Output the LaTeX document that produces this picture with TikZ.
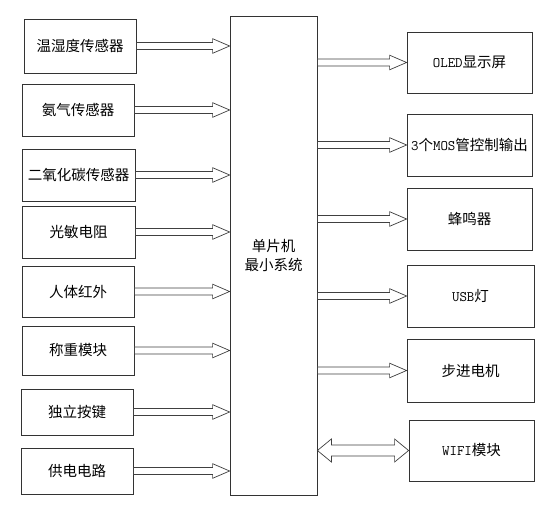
\documentclass[tikz,border=0pt]{standalone}
\usepackage{fontspec}
\setmainfont{Noto Sans CJK SC}
\newfontfamily\latinmono{Latin Modern Mono}
\usetikzlibrary{calc}

\newcommand{\en}[1]{{\latinmono #1}}

\tikzset{
  blk/.style={draw=black!80,line width=0.8pt,align=center,inner sep=0pt,
    font=\fontsize{14.5}{19}\selectfont},
  hollow/.style={draw=black!75,line width=0.7pt,fill=white,line join=miter},
}

% hollow block arrow between two points at one level
\newcommand{\blockarrow}[2]{%
  \draw[hollow] let \p1=#1, \p2=#2 in
    (\x1,\y1+3.5pt) -- (\x2-17pt,\y1+3.5pt) -- (\x2-17pt,\y1+7.3pt) -- (\x2,\y1)
    -- (\x2-17pt,\y1-7.3pt) -- (\x2-17pt,\y1-3.5pt) -- (\x1,\y1-3.5pt) -- cycle;}

\begin{document}
\begin{tikzpicture}[x=1pt,y=-1pt,line cap=round]
\useasboundingbox (0,0) rectangle (554,510);
% MCU
\node[blk,minimum width=87pt,minimum height=479pt] (mcu) at (273.5,255.5) {单片机\\最小系统};
% inputs
\node[blk,minimum width=112pt,minimum height=54pt] (wsd) at (80,46) {温湿度传感器};
\node[blk,minimum width=112pt,minimum height=52pt] (nh) at (78,110) {氨气传感器};
\node[blk,minimum width=113pt,minimum height=52pt] (co) at (78.5,175) {二氧化碳传感器};
\node[blk,minimum width=113pt,minimum height=52pt] (gm) at (78.5,232) {光敏电阻};
\node[blk,minimum width=112pt,minimum height=51pt] (rt) at (78,291.5) {人体红外};
\node[blk,minimum width=112pt,minimum height=49pt] (cz) at (78,350.5) {称重模块};
\node[blk,minimum width=112pt,minimum height=46pt] (key) at (77,412) {独立按键};
\node[blk,minimum width=112pt,minimum height=46pt] (pwr) at (77,471) {供电电路};
% outputs
\node[blk,minimum width=125pt,minimum height=61pt] (oled) at (469.5,62.5) {\en{OLED}显示屏};
\node[blk,minimum width=125pt,minimum height=62pt] (mos) at (469.5,145) {\en{3}个\en{MOS}管控制输出};
\node[blk,minimum width=125pt,minimum height=62pt] (fm) at (469.5,219) {蜂鸣器};
\node[blk,minimum width=127pt,minimum height=62pt] (usb) at (470.5,296) {\en{USB}灯};
\node[blk,minimum width=127pt,minimum height=63pt] (bj) at (470.5,370.5) {步进电机};
\node[blk,minimum width=125pt,minimum height=61pt] (wifi) at (471.5,450.5) {\en{WIFI}模块};
% input arrows
\foreach \src in {wsd,nh,co,gm,rt,cz,key,pwr}
  \blockarrow{(\src.east)}{(mcu.west |- \src.east)};
% output arrows
\foreach \dst in {oled,mos,fm,usb,bj}
  \blockarrow{(mcu.east |- \dst.west)}{(\dst.west)};
% two-way arrow to wifi
\draw[hollow] let \p1=(mcu.east |- wifi.west), \p2=(wifi.west) in
  (\x1,\y1) -- (\x1+14pt,\y1+11.5pt) -- (\x1+14pt,\y1+5.5pt) -- (\x2-14pt,\y1+5.5pt)
  -- (\x2-14pt,\y1+11.5pt) -- (\x2,\y1) -- (\x2-14pt,\y1-11.5pt) -- (\x2-14pt,\y1-5.5pt)
  -- (\x1+14pt,\y1-5.5pt) -- (\x1+14pt,\y1-11.5pt) -- cycle;
\end{tikzpicture}
\end{document}
